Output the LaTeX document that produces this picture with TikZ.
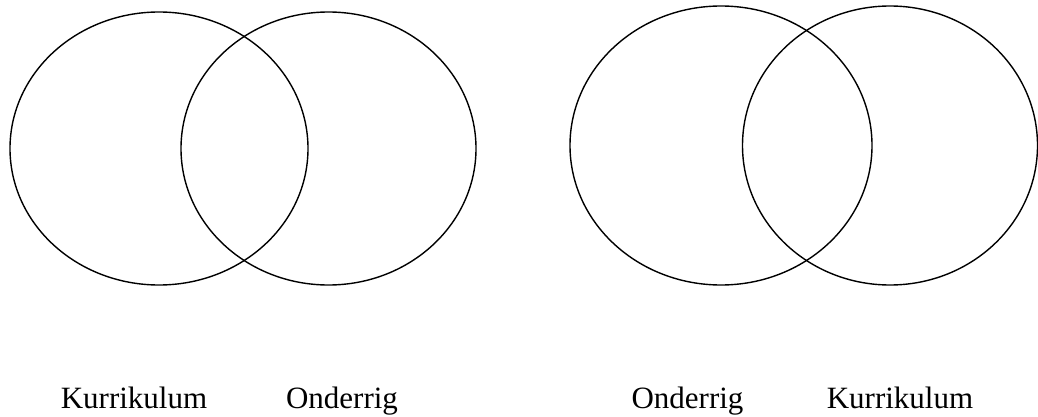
\documentclass[tikz,border=0pt]{standalone}
\usepackage{fontspec}
\setmainfont{Liberation Serif}
\usetikzlibrary{shapes.geometric}
\begin{document}
\begin{tikzpicture}[x=1pt,y=-1pt,
  venn/.style={draw=black,line width=1.4pt,ellipse,inner sep=0pt},
  lbl/.style={anchor=base,inner sep=0pt,font=\fontsize{31}{36}\selectfont}]
\useasboundingbox (0,0) rectangle (1038,417);
\node[venn,minimum width=298pt,minimum height=273pt] (c1) at (159,148.5) {};
\node[venn,minimum width=295pt,minimum height=273pt] (c2) at (328.5,148.5) {};
\node[venn,minimum width=302pt,minimum height=279pt] (c3) at (721,145.5) {};
\node[venn,minimum width=295pt,minimum height=279pt] (c4) at (890,145.5) {};
\node[lbl] (t1) at (134,408) {Kurrikulum};
\node[lbl] (t2) at (342,408) {Onderrig};
\node[lbl] (t3) at (687.5,408) {Onderrig};
\node[lbl] (t4) at (900,408) {Kurrikulum};
\end{tikzpicture}
\end{document}
